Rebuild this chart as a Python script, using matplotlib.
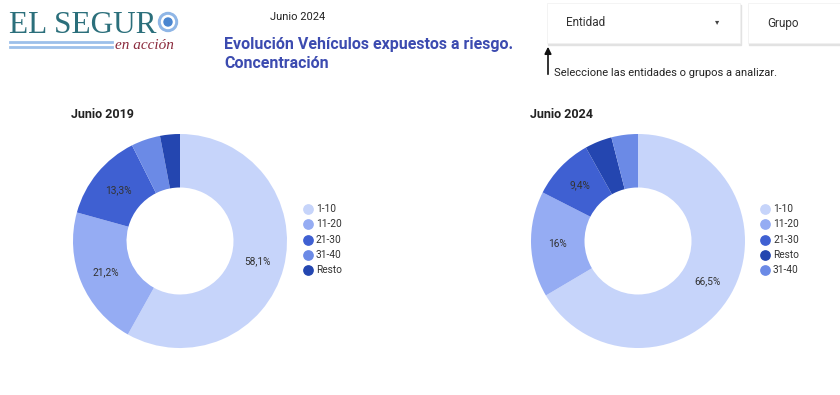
import matplotlib.pyplot as plt
import numpy as np
from matplotlib.patches import Circle, Rectangle

plt.rcParams['font.family'] = ['Roboto', 'DejaVu Sans']

labels_2019 = ['1-10', '11-20', '21-30', '31-40', 'Resto']
values_2019 = [58.1, 21.2, 13.3, 4.4, 3.0]
labels_2024 = ['1-10', '11-20', '21-30', 'Resto', '31-40']
values_2024 = [66.5, 16.0, 9.4, 4.1, 4.0]
pct_text_2019 = ['58,1%', '21,2%', '13,3%', '', '']
pct_text_2024 = ['66,5%', '16%', '9,4%', '', '']

colors = {'1-10': '#c6d4fa', '11-20': '#95acf3', '21-30': '#3f60d2',
          '31-40': '#6b8ae6', 'Resto': '#2446b0'}

W, H = 840, 395
fig = plt.figure(figsize=(W / 100, H / 100), dpi=100)
bg = fig.add_axes([0, 0, 1, 1])
bg.set_xlim(0, W)
bg.set_ylim(H, 0)
bg.axis('off')

# logo
bg.text(9, 33, 'EL SEGUR', family='Liberation Serif', fontsize=22.5, color='#2b6f7b', va='baseline')
bg.add_patch(Circle((168, 22), 9.5, color='#8fb6e6'))
bg.add_patch(Circle((168, 22), 6.5, color='white'))
bg.add_patch(Circle((168, 22), 4, color='#4a86d0'))
bg.plot([10, 112], [42, 42], color='#9cc0ea', lw=2)
bg.plot([10, 112], [46.5, 46.5], color='#9cc0ea', lw=2)
bg.text(115, 49, 'en acción', family='Liberation Serif', style='italic', fontsize=11,
        color='#8b2a3c', va='baseline')

# header text
bg.text(270, 17, 'Junio 2024', fontsize=8, color='#222222', va='center')
bg.text(224, 44, 'Evolución Vehículos expuestos a riesgo.', fontsize=11.5, weight='bold',
        color='#3c4bb0', va='center')
bg.text(224, 63, 'Concentración', fontsize=11.5, weight='bold', color='#3c4bb0', va='center')

# dropdowns
for x0, x1, txt in [(547, 740, 'Entidad'), (748, 850, 'Grupo')]:
    bg.add_patch(Rectangle((x0 + 1, 5), x1 - x0, 40, color='#e2e2e2', zorder=1))
    bg.add_patch(Rectangle((x0, 3), x1 - x0, 40, facecolor='white', edgecolor='#f0f0f0', lw=0.5, zorder=2))
    bg.text(x0 + 19, 23, txt, fontsize=8.5, color='#333333', va='center', zorder=3)
bg.text(717, 22, '▾', fontsize=6, color='#444444', va='center', ha='center', zorder=3,
        family=['DejaVu Sans'])
bg.annotate('', xy=(548, 44), xytext=(548, 77),
            arrowprops=dict(arrowstyle='-|>', color='#111111', lw=1.2, mutation_scale=10))
bg.text(554, 73, 'Seleccione las entidades o grupos a analizar.', fontsize=8,
        color='#222222', va='center')

# chart titles
bg.text(71, 114, 'Junio 2019', fontsize=9, weight='bold', color='#222222', va='center')
bg.text(530, 114, 'Junio 2024', fontsize=9, weight='bold', color='#222222', va='center')


def donut(cx, cy, r, labels, values, pct_text, leg_x):
    ax = fig.add_axes([(cx - r) / W, (H - cy - r) / H, 2 * r / W, 2 * r / H])
    wedges, _ = ax.pie(values, colors=[colors[l] for l in labels], startangle=90,
                       counterclock=False, radius=1, wedgeprops=dict(width=0.5, linewidth=0))
    for w, t in zip(wedges, pct_text):
        if not t:
            continue
        ang = np.deg2rad((w.theta1 + w.theta2) / 2)
        ax.text(0.75 * np.cos(ang), 0.75 * np.sin(ang), t, ha='center', va='center',
                fontsize=7.3, color='#333333')
    ax.set_xlim(-1, 1)
    ax.set_ylim(-1, 1)
    ax.set_aspect('equal')
    ax.axis('off')
    for i, l in enumerate(labels):
        y = 209 + i * 15.3
        bg.scatter([leg_x], [y], s=45, color=colors[l], zorder=3)
        bg.text(leg_x + 8, y, l, fontsize=7.3, color='#333333', va='center')


donut(180, 241, 107, labels_2019, values_2019, pct_text_2019, 308)
donut(638, 241, 107, labels_2024, values_2024, pct_text_2024, 765)

fig.savefig('out.png', dpi=100)
